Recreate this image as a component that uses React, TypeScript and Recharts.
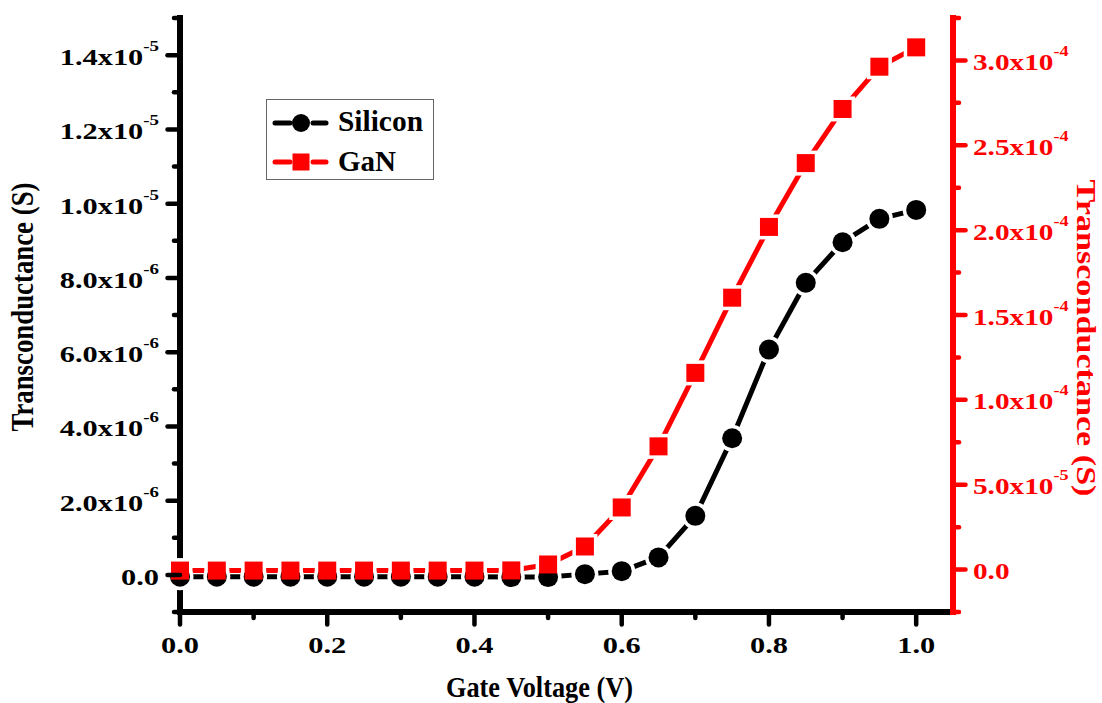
import React from 'react';
import { ComposedChart, Line, XAxis, YAxis, Legend, Label } from 'recharts';

const voltage = [0, 0.05, 0.1, 0.15, 0.2, 0.25, 0.3, 0.35, 0.4, 0.45, 0.5, 0.55, 0.6, 0.65, 0.7, 0.75, 0.8, 0.85, 0.9, 0.95, 1.0];
const silicon = [-5e-8, -5e-8, -5e-8, -5e-8, -5e-8, -5e-8, -5e-8, -5e-8, -5e-8, -6e-8, -6e-8, 2e-8, 1.0e-7, 4.7e-7, 1.59e-6, 3.68e-6, 6.07e-6, 7.87e-6, 8.96e-6, 9.59e-6, 9.83e-6];
const gan = [-6e-7, -6e-7, -6e-7, -6e-7, -6e-7, -6e-7, -6e-7, -6e-7, -6e-7, -5e-7, 3.0e-6, 1.36e-5, 3.66e-5, 7.26e-5, 1.159e-4, 1.602e-4, 2.019e-4, 2.395e-4, 2.714e-4, 2.963e-4, 3.077e-4];

const xMajorTicks = [0, 0.2, 0.4, 0.6, 0.8, 1.0];
const xMinorTicks = [0.1, 0.3, 0.5, 0.7, 0.9];
const leftMajorTicks = [0, 2e-6, 4e-6, 6e-6, 8e-6, 1e-5, 1.2e-5, 1.4e-5];
const leftMinorTicks = [-1e-6, 1e-6, 3e-6, 5e-6, 7e-6, 9e-6, 1.1e-5, 1.3e-5, 1.5e-5];
const rightMajorTicks = [0, 5e-5, 1e-4, 1.5e-4, 2e-4, 2.5e-4, 3e-4];
const rightMinorTicks = [-2.5e-5, 2.5e-5, 7.5e-5, 1.25e-4, 1.75e-4, 2.25e-4, 2.75e-4, 3.25e-4];

const seriesNames = ['Silicon', 'GaN'];
const xTitle = 'Gate Voltage (V)';
const yTitle = 'Transconductance (S)';

const data = voltage.map((v, i) => ({ v, silicon: silicon[i], gan: gan[i] }));

const FONT = "'Liberation Serif', 'Times New Roman', serif";
const RED = '#ff0000';
const BLACK = '#000000';

const isIn = (v: number, list: number[]) => list.some((t) => Math.abs(t - v) <= Math.abs(t) * 1e-9 + 1e-15);

const sci = (v: number) => {
  if (v === 0) return { main: '0.0', sup: '' };
  const exp = Math.floor(Math.log10(Math.abs(v)) + 1e-9);
  const mant = v / Math.pow(10, exp);
  return { main: mant.toFixed(1) + 'x10', sup: String(exp) };
};

const SX = 1.35;

const BottomTick = (props: any) => {
  const { x, y, payload } = props;
  const v = payload.value;
  const major = isIn(v, xMajorTicks);
  return (
    <g>
      <line x1={x} y1={y} x2={x} y2={y + (major ? 12.5 : 6)} stroke={BLACK} strokeWidth={4.5} strokeLinecap="round" />
      {major && (
        <g transform={`translate(${x},${y + 41}) scale(${SX},1)`}>
          <text x={0} y={0} textAnchor="middle" fontFamily={FONT} fontWeight="bold" fontSize={22.5} fill={BLACK}>
            {v.toFixed(1)}
          </text>
        </g>
      )}
    </g>
  );
};

const TopTick = (props: any) => {
  const { x, y, payload } = props;
  const v = payload.value;
  const major = isIn(v, xMajorTicks);
  return <line x1={x} y1={y} x2={x} y2={y + (major ? 10 : 5)} stroke={BLACK} strokeWidth={4.5} strokeLinecap="round" />;
};

const LeftTick = (props: any) => {
  const { x, y, payload } = props;
  const v = payload.value;
  const major = isIn(v, leftMajorTicks);
  const l = sci(v);
  return (
    <g>
      <line x1={x} y1={y} x2={x - (major ? 12.5 : 6)} y2={y} stroke={BLACK} strokeWidth={4.5} strokeLinecap="round" />
      {major && (
        <g transform={`translate(${x - 21},${y + 10}) scale(${SX},1)`}>
          <text x={0} y={0} textAnchor="end" fontFamily={FONT} fontWeight="bold" fontSize={22.5} fill={BLACK}>
            {l.main}
            {l.sup && (
              <tspan dy={-14} fontSize={14}>
                {l.sup}
              </tspan>
            )}
          </text>
        </g>
      )}
    </g>
  );
};

const RightTick = (props: any) => {
  const { x, y, payload } = props;
  const v = payload.value;
  const major = isIn(v, rightMajorTicks);
  const l = sci(v);
  return (
    <g>
      <line x1={x} y1={y} x2={x + (major ? 12.5 : 6)} y2={y} stroke={RED} strokeWidth={4.5} strokeLinecap="round" />
      {major && (
        <g transform={`translate(${x + 20},${y + 9.5}) scale(1.3,1)`}>
          <text x={0} y={0} textAnchor="start" fontFamily={FONT} fontWeight="bold" fontSize={22.5} fill={RED}>
            {l.main}
            {l.sup && (
              <tspan dy={-14} fontSize={14}>
                {l.sup}
              </tspan>
            )}
          </text>
        </g>
      )}
    </g>
  );
};

const XTitle = (props: any) => {
  const vb = props.viewBox || { x: 180, y: 612, width: 773, height: 91 };
  const cx = vb.x + vb.width / 2 - 27;
  return (
    <text x={cx} y={vb.y + 85} textAnchor="middle" fontFamily={FONT} fontWeight="bold" fontSize={29} fill={BLACK} textLength={187} lengthAdjust="spacingAndGlyphs">
      {xTitle}
    </text>
  );
};

const LeftTitle = (props: any) => {
  const vb = props.viewBox || { x: 0, y: 18, width: 180, height: 594 };
  const cx = vb.x + 33;
  const cy = vb.y + vb.height / 2 - 8;
  return (
    <text x={cx} y={cy} transform={`rotate(-90, ${cx}, ${cy})`} textAnchor="middle" fontFamily={FONT} fontWeight="bold" fontSize={31} fill={BLACK} textLength={249} lengthAdjust="spacingAndGlyphs">
      {yTitle}
    </text>
  );
};

const RightTitle = (props: any) => {
  const vb = props.viewBox || { x: 953, y: 18, width: 149, height: 594 };
  const cx = vb.x + 124;
  const cy = vb.y + vb.height / 2 + 23;
  return (
    <text x={cx} y={cy} transform={`rotate(90, ${cx}, ${cy})`} textAnchor="middle" fontFamily={FONT} fontWeight="bold" fontSize={28} fill={RED} textLength={317} lengthAdjust="spacingAndGlyphs">
      {yTitle}
    </text>
  );
};

const haloCircle = (p: any) => <circle key={`hc${p.index}`} cx={p.cx} cy={p.cy} r={13.5} fill="#fff" />;
const circleDot = (p: any) => <circle key={`c${p.index}`} cx={p.cx} cy={p.cy} r={10} fill={BLACK} />;
const haloSquare = (p: any) => <rect key={`hs${p.index}`} x={p.cx - 12.5} y={p.cy - 12.5} width={25} height={25} fill="#fff" />;
const squareDot = (p: any) => <rect key={`s${p.index}`} x={p.cx - 9} y={p.cy - 9} width={18} height={18} fill={RED} />;

const LegendBox = () => (
  <svg width={168} height={81} style={{ display: 'block' }}>
    <rect x={0.5} y={0.5} width={167} height={80} fill="#fff" stroke="#666" strokeWidth={1} />
    <line x1={9} y1={24} x2={24} y2={24} stroke={BLACK} strokeWidth={5} strokeLinecap="round" />
    <line x1={47} y1={24} x2={60} y2={24} stroke={BLACK} strokeWidth={5} strokeLinecap="round" />
    <circle cx={35} cy={24} r={9} fill={BLACK} />
    <text x={72} y={32} fontFamily={FONT} fontWeight="bold" fontSize={29} fill={BLACK} textLength={85} lengthAdjust="spacingAndGlyphs">{seriesNames[0]}</text>
    <line x1={9} y1={63} x2={24} y2={63} stroke={RED} strokeWidth={5} strokeLinecap="round" />
    <line x1={47} y1={63} x2={60} y2={63} stroke={RED} strokeWidth={5} strokeLinecap="round" />
    <rect x={26.5} y={54.5} width={17} height={17} fill={RED} />
    <text x={72} y={72} fontFamily={FONT} fontWeight="bold" fontSize={29} fill={BLACK}>{seriesNames[1]}</text>
  </svg>
);

export default function App() {
  return (
    <div style={{ position: 'absolute', left: 0, top: 0, width: 1102, height: 703, background: '#fff' }}>
      <ComposedChart width={1102} height={703} data={data} margin={{ top: 18, right: 0, bottom: 0, left: 0 }}>
        <Line xAxisId="bottom" yAxisId="left" dataKey="silicon" stroke={BLACK} strokeWidth={5} dot={false} activeDot={false} isAnimationActive={false} />
        <Line xAxisId="bottom" yAxisId="right" dataKey="gan" stroke={RED} strokeWidth={5} dot={false} activeDot={false} isAnimationActive={false} />
        <Line xAxisId="bottom" yAxisId="right" dataKey="gan" stroke="none" dot={haloSquare} activeDot={false} isAnimationActive={false} legendType="none" />
        <Line xAxisId="bottom" yAxisId="left" dataKey="silicon" stroke="none" dot={haloCircle} activeDot={false} isAnimationActive={false} legendType="none" />
        <Line xAxisId="bottom" yAxisId="left" dataKey="silicon" name={seriesNames[0]} stroke="none" dot={circleDot} activeDot={false} isAnimationActive={false} />
        <Line xAxisId="bottom" yAxisId="right" dataKey="gan" name={seriesNames[1]} stroke="none" dot={squareDot} activeDot={false} isAnimationActive={false} />
        <XAxis
          xAxisId="top"
          orientation="top"
          dataKey="v"
          type="number"
          domain={[0, 1.05]}
          ticks={[...xMajorTicks, ...xMinorTicks]}
          interval={0}
          height={0}
          tickSize={0}
          tickMargin={0}
          tickLine={false}
          tick={TopTick}
          axisLine={{ stroke: BLACK, strokeWidth: 6, strokeLinecap: 'square' }}
        />
        <XAxis
          xAxisId="bottom"
          orientation="bottom"
          dataKey="v"
          type="number"
          domain={[0, 1.05]}
          ticks={[...xMajorTicks, ...xMinorTicks]}
          interval={0}
          height={91}
          tickSize={0}
          tickMargin={0}
          tickLine={false}
          tick={BottomTick}
          axisLine={{ stroke: BLACK, strokeWidth: 6, strokeLinecap: 'square' }}
          label={<Label content={XTitle} />}
        />
        <YAxis
          yAxisId="left"
          orientation="left"
          type="number"
          domain={[-1e-6, 1.5e-5]}
          ticks={[...leftMajorTicks, ...leftMinorTicks]}
          interval={0}
          width={180}
          tickSize={0}
          tickMargin={0}
          tickLine={false}
          tick={LeftTick}
          axisLine={{ stroke: BLACK, strokeWidth: 6, strokeLinecap: 'square' }}
          label={<Label content={LeftTitle} />}
        />
        <YAxis
          yAxisId="right"
          orientation="right"
          type="number"
          domain={[-2.5e-5, 3.25e-4]}
          ticks={[...rightMajorTicks, ...rightMinorTicks]}
          interval={0}
          width={149}
          tickSize={0}
          tickMargin={0}
          tickLine={false}
          tick={RightTick}
          axisLine={{ stroke: RED, strokeWidth: 6, strokeLinecap: 'square' }}
          label={<Label content={RightTitle} />}
        />
        <Legend
          content={LegendBox}
          layout="horizontal"
          verticalAlign="middle"
          align="center"
          wrapperStyle={{ position: 'absolute', left: 266, top: 99, width: 168, height: 81 }}
        />
      </ComposedChart>
    </div>
  );
}
